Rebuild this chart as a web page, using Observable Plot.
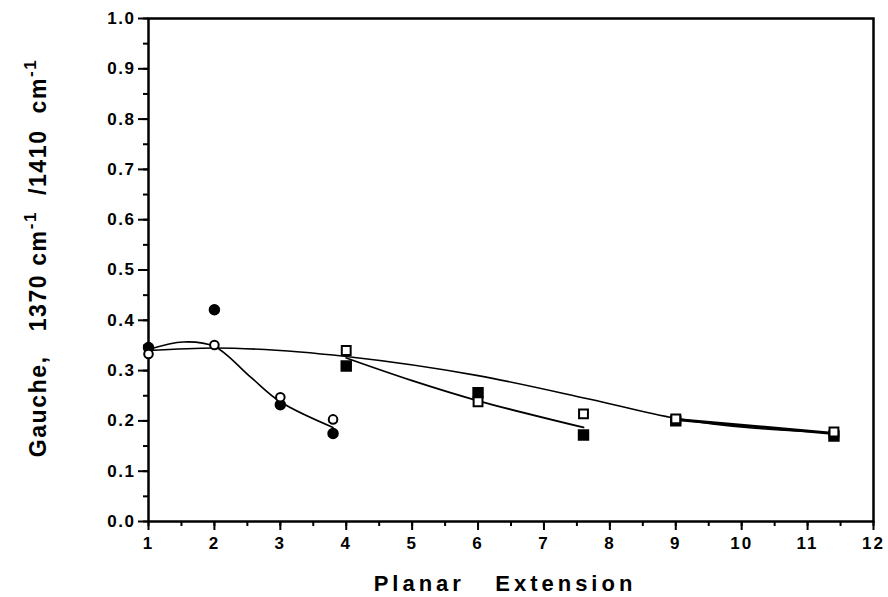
<!DOCTYPE html>
<html>
<head>
<meta charset="utf-8">
<script src="https://cdn.jsdelivr.net/npm/d3@7"></script>
<script src="https://cdn.jsdelivr.net/npm/@observablehq/plot@0.6"></script>
<style>
  html, body { margin: 0; padding: 0; background: #fff; }
  #chart { width: 888px; height: 597px; }
</style>
</head>
<body>
<div id="chart"></div>
<script>
// ---- data ----
const filledCircleX = [1, 2, 3, 3.8];
const filledCircleY = [0.346, 0.421, 0.232, 0.175];
const openCircleX = [1, 2, 3, 3.8];
const openCircleY = [0.333, 0.351, 0.247, 0.203];
const filledSquareX = [4, 6, 7.6, 9, 11.4];
const filledSquareY = [0.309, 0.256, 0.172, 0.200, 0.170];
const openSquareX = [4, 6, 7.6, 9, 11.4];
const openSquareY = [0.340, 0.238, 0.214, 0.204, 0.178];

// fitted curves
const circleCurveX = [1, 1.53, 2, 2.55, 3, 3.8];
const circleCurveY = [0.342, 0.357, 0.348, 0.287, 0.238, 0.187];
const longCurveX = [1, 2, 3.3, 4, 6, 7.7, 9, 11.4];
const longCurveY = [0.340, 0.345, 0.337, 0.328, 0.290, 0.243, 0.205, 0.176];
const squareCurveX = [4, 5, 6, 7.6];
const squareCurveY = [0.325, 0.280, 0.240, 0.187];
const tailCurveX = [9, 11.4];
const tailCurveY = [0.203, 0.175];

const xTicks = [1, 2, 3, 4, 5, 6, 7, 8, 9, 10, 11, 12];
const yTicks = [0, 0.1, 0.2, 0.3, 0.4, 0.5, 0.6, 0.7, 0.8, 0.9, 1.0];

const toRows = (xs, ys) => xs.map((x, i) => ({x, y: ys[i]}));
const FONT = "'Liberation Sans', Arial, sans-serif";

const chart = Plot.plot({
  width: 888,
  height: 597,
  marginLeft: 148,
  marginRight: 15,
  marginTop: 18,
  marginBottom: 76,
  style: {fontFamily: FONT, fontSize: "16px", fontWeight: "bold", background: "#fff", color: "#000"},
  x: {domain: [1, 12]},
  y: {domain: [0, 1]},
  marks: [
    // minor ticks
    Plot.axisX({interval: 0.5, tickSize: 5, text: null, strokeWidth: 2, label: null}),
    Plot.axisY({interval: 0.05, tickSize: 5, text: null, strokeWidth: 2, label: null}),
    // major ticks
    Plot.axisX({ticks: xTicks, tickSize: 9, tickPadding: 6, strokeWidth: 2, label: null,
      tickFormat: d3.format("d"), fontSize: 17}),
    Plot.axisY({ticks: yTicks, tickSize: 10, tickPadding: 3, strokeWidth: 2, label: null,
      tickFormat: d3.format(".1f"), fontSize: 17}),
    Plot.frame({stroke: "#000", strokeWidth: 2.5}),
    // curves
    Plot.line(toRows(circleCurveX, circleCurveY), {x: "x", y: "y", curve: "catmull-rom", stroke: "#000", strokeWidth: 1.6}),
    Plot.line(toRows(longCurveX, longCurveY), {x: "x", y: "y", curve: "monotone-x", stroke: "#000", strokeWidth: 1.6}),
    Plot.line(toRows(squareCurveX, squareCurveY), {x: "x", y: "y", curve: "catmull-rom", stroke: "#000", strokeWidth: 1.8}),
    Plot.line(toRows(tailCurveX, tailCurveY), {x: "x", y: "y", stroke: "#000", strokeWidth: 3}),
    // points
    Plot.dot(toRows(filledCircleX, filledCircleY), {x: "x", y: "y", r: 5, fill: "#000", stroke: "#000"}),
    Plot.dot(toRows(openCircleX, openCircleY), {x: "x", y: "y", r: 4.3, fill: "#fff", stroke: "#000", strokeWidth: 2}),
    Plot.dot(toRows(filledSquareX, filledSquareY), {x: "x", y: "y", symbol: "square", r: 5.6, fill: "#000", stroke: "#000"}),
    Plot.dot(toRows(openSquareX, openSquareY), {x: "x", y: "y", symbol: "square", r: 5, fill: "#fff", stroke: "#000", strokeWidth: 2})
  ]
});

document.getElementById("chart").appendChild(chart);

const svg = d3.select(chart);
// tick label styling (all texts Plot drew are tick labels)
svg.selectAll("text").each(function() {
  const t = d3.select(this);
  const isY = /^0\.|^1\.0$/.test(t.text());
  t.style("font-family", FONT).style("font-size", "17px").style("font-weight", "bold")
   .style("letter-spacing", isY ? "1.5px" : "2px");
});

// axis titles
const nb = "\u00A0";
svg.append("text")
  .attr("x", 505).attr("y", 591)
  .attr("text-anchor", "middle")
  .style("font-family", FONT)
  .style("font-size", "22px").style("font-weight", "bold")
  .style("letter-spacing", "4px")
  .text("Planar" + nb + nb + nb + "Extension");

const yl = svg.append("text")
  .attr("transform", "translate(46,258) rotate(-90)")
  .attr("text-anchor", "middle")
  .style("font-family", FONT)
  .style("font-size", "23px").style("font-weight", "bold")
  .style("letter-spacing", "1.6px");
yl.append("tspan").text("Gauche," + nb + nb + nb + "1370" + nb + "cm");
yl.append("tspan").attr("dy", "-10").style("font-size", "17px").text("-1");
yl.append("tspan").attr("dy", "10").text(nb + nb + "/1410" + nb + nb + "cm");
yl.append("tspan").attr("dy", "-10").style("font-size", "17px").text("-1");
</script>
</body>
</html>
